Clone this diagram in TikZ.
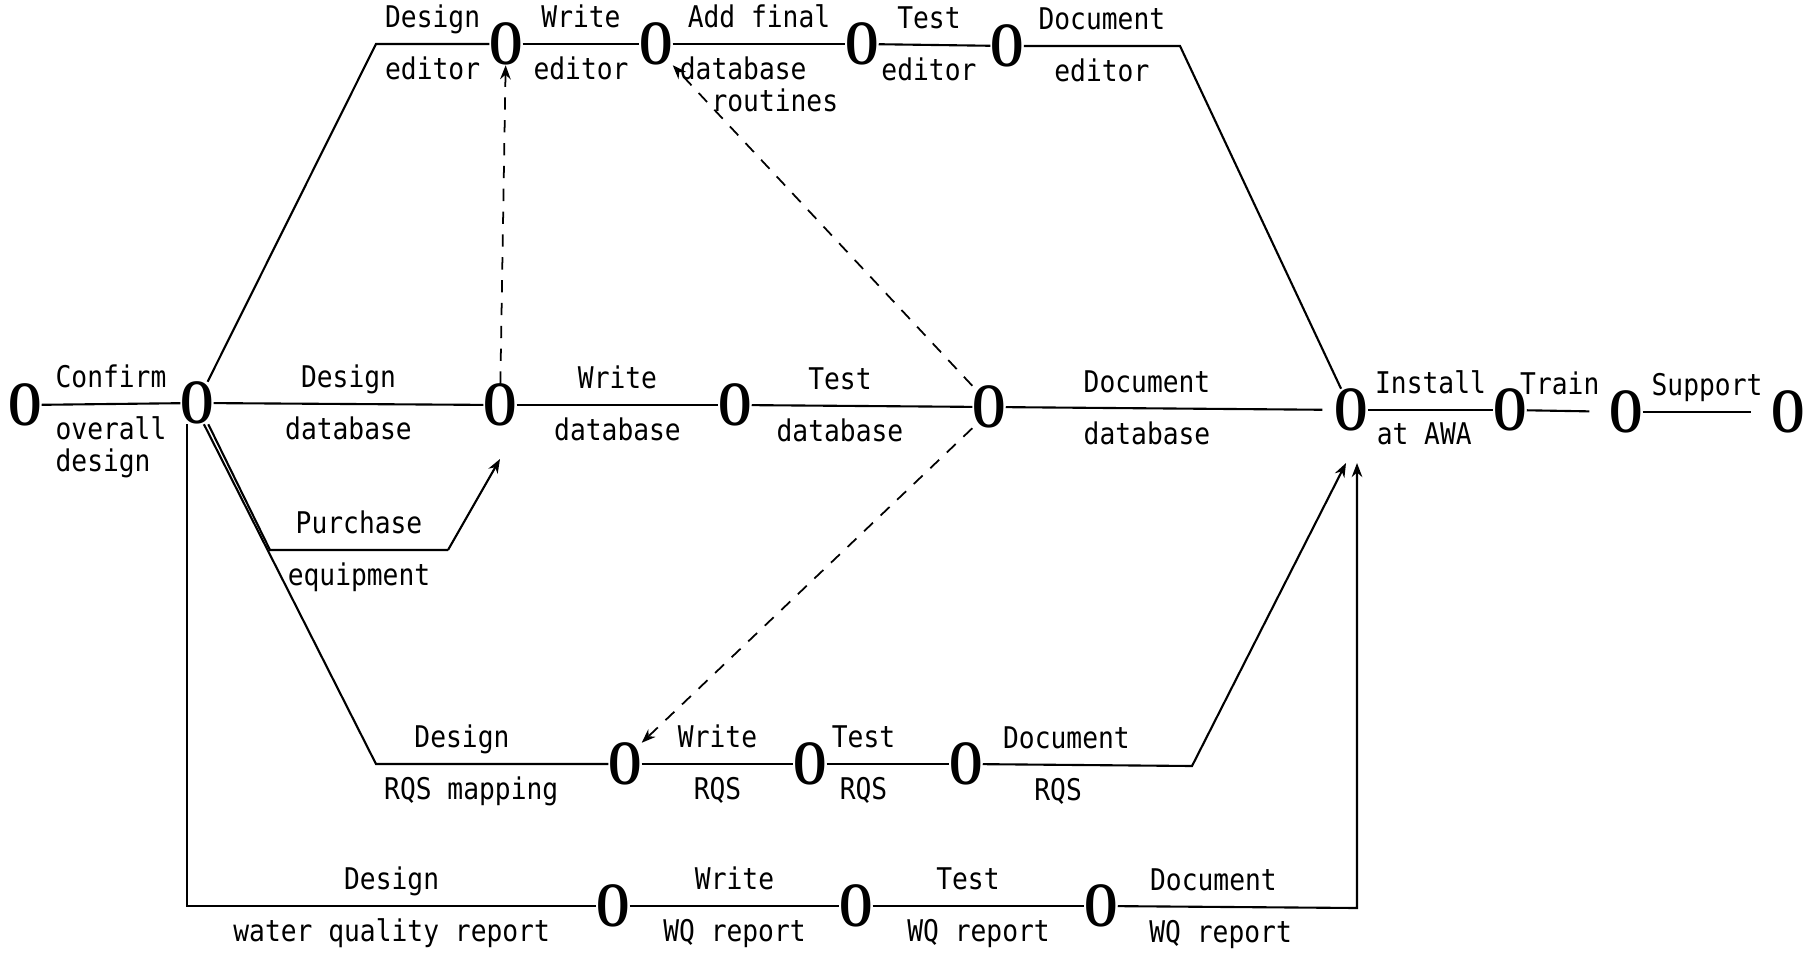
\documentclass[tikz,border=0pt]{standalone}
\usepackage{fontspec}
\usetikzlibrary{arrows.meta}
\newfontfamily\dotfont[FakeStretch=0.88]{DejaVu Sans Mono}
\newfontfamily\evfont[FakeStretch=0.68]{Liberation Serif}

\tikzset{
  ev/.style={inner sep=0pt, outer sep=0pt, font=\fontsize{18}{18}\evfont\bfseries},
  act/.style={line width=0.6pt},
  dep/.style={line width=0.5pt, dash pattern=on 3.5pt off 3pt, -{Stealth[length=4pt,width=3pt]}},
  arr/.style={-{Stealth[length=4pt,width=3pt]}},
  lab/.style={font=\fontsize{8.5}{9}\dotfont, inner sep=1pt, align=left},
  up/.style={lab, text depth=0.25em, above=0.8pt},
  dn/.style={lab, below=2.4pt}
}

\begin{document}
\begin{tikzpicture}

\fill[white] (0,0) rectangle (18.14,-9.53);
\useasboundingbox (0,0) rectangle (18.14,-9.53);

% events
\node[ev] (S0) at (0.25,-4.05) {O};
\node[ev] (S1) at (1.97,-4.03) {O};
\node[ev] (T1) at (5.06,-0.44) {O};
\node[ev] (T2) at (6.56,-0.44) {O};
\node[ev] (T3) at (8.62,-0.44) {O};
\node[ev] (T4) at (10.07,-0.46) {O};
\node[ev] (M1) at (5.00,-4.05) {O};
\node[ev] (M2) at (7.35,-4.05) {O};
\node[ev] (M3) at (9.89,-4.07) {O};
\node[ev] (M4) at (13.51,-4.10) {O};
\node[ev] (M5) at (15.10,-4.10) {O};
\node[ev] (M6) at (16.26,-4.12) {O};
\node[ev] (M7) at (17.88,-4.12) {O};
\node[ev] (R1) at (6.25,-7.64) {O};
\node[ev] (R2) at (8.10,-7.64) {O};
\node[ev] (R3) at (9.66,-7.64) {O};
\node[ev] (W1) at (6.13,-9.06) {O};
\node[ev] (W2) at (8.56,-9.06) {O};
\node[ev] (W3) at (11.01,-9.06) {O};

% bends and arrow ends
\coordinate (tA) at (3.76,-0.44);
\coordinate (tB) at (11.80,-0.46);
\coordinate (pA) at (2.70,-5.50);
\coordinate (pB) at (4.48,-5.50);
\coordinate (rA) at (3.76,-7.64);
\coordinate (rB) at (11.92,-7.66);
\coordinate (wA) at (1.87,-9.06);
\coordinate (wB) at (13.57,-9.08);
\coordinate (M1in) at ([yshift=-5.4mm]M1.center);
\coordinate (M4inA) at ([xshift=-0.5mm,yshift=-5.3mm]M4.center);
\coordinate (M4inB) at ([xshift=0.6mm,yshift=-5.3mm]M4.center);

% database line
\draw[act] (S0) -- node[up] (cnf) {Confirm} node[dn] (cnfB) {overall\\design} (S1);
\draw[act] (S1) -- node[up] (dDb) {Design} node[dn] (dDbB) {database} (M1);
\draw[act] (M1) -- node[up] (wDb) {Write} node[dn] (wDbB) {database} (M2);
\draw[act] (M2) -- node[up,pos=0.4] (tDb) {Test} node[dn,pos=0.4] (tDbB) {database} (M3);
\draw[act,shorten >=1.2mm] (M3) -- node[up,pos=0.43] (oDb) {Document} node[dn,pos=0.43] (oDbB) {database} (M4);
\draw[act] (M4) -- node[up] (ins) {Install} node[dn,pos=0.45] (insB) {at AWA} (M5);
\draw[act,shorten >=2mm] (M5) -- node[up,pos=0.4] (trn) {Train} (M6);
\draw[act,shorten >=2mm] (M6) -- node[up] (sup) {Support} (M7);

% editor line
\draw[act] (S1) -- (tA) -- node[up] (dEd) {Design} node[dn] (dEdB) {editor} (T1);
\draw[act] (T1) -- node[up] (wEd) {Write} node[dn] (wEdB) {editor} (T2);
\draw[act] (T2) -- node[up] (aFn) {Add final} node[dn] (aFnB) {database\\\phantom{da}routines} (T3);
\draw[act] (T3) -- node[up,pos=0.45] (tEd) {Test} node[dn,pos=0.45] (tEdB) {editor} (T4);
\draw[act] (T4) -- node[up] (oEd) {Document} node[dn] (oEdB) {editor} (tB) -- (M4);

% equipment
\draw[act] (S1.-62) -- (pA) -- node[up] (pur) {Purchase} node[dn] (purB) {equipment} (pB);
\draw[act,arr] (pB) -- (M1in);

% RQS line
\draw[act] (S1.-72) -- (rA) -- node[up,pos=0.37] (dRq) {Design} node[dn,pos=0.41] (dRqB) {RQS mapping} (R1);
\draw[act] (R1) -- node[up] (wRq) {Write} node[dn] (wRqB) {RQS} (R2);
\draw[act] (R2) -- node[up,pos=0.3] (tRq) {Test} node[dn,pos=0.3] (tRqB) {RQS} (R3);
\draw[act,arr] (R3) -- node[up,pos=0.4] (oRq) {Document} node[dn,pos=0.36] (oRqB) {RQS} (rB) -- (M4inA);

% WQ report line
\draw[act] (S1.south -| wA) -- (wA) -- node[up] (dWq) {Design} node[dn] (dWqB) {water quality report} (W1);
\draw[act] (W1) -- node[up] (wWq) {Write} node[dn] (wWqB) {WQ report} (W2);
\draw[act] (W2) -- node[up,pos=0.45] (tWq) {Test} node[dn,pos=0.5] (tWqB) {WQ report} (W3);
\draw[act,arr] (W3) -- node[up,pos=0.4] (oWq) {Document} node[dn,pos=0.43] (oWqB) {WQ report} (wB) -- (M4inB);

% dummy dependencies
\draw[dep] (M1) -- (T1);
\draw[dep] (M3.north west) -- (T2.south east);
\draw[dep] (M3.south west) -- (R1.north east);

\end{tikzpicture}
\end{document}
